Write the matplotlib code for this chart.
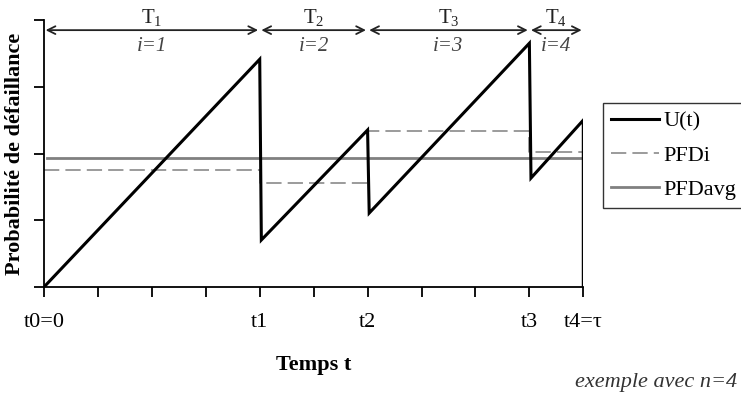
import matplotlib
matplotlib.use("Agg")
import matplotlib.pyplot as plt

plt.rcParams['font.family'] = ['Liberation Serif', 'DejaVu Serif']
plt.rcParams['mathtext.fontset'] = 'custom'
plt.rcParams['mathtext.rm'] = 'Liberation Serif'
plt.rcParams['mathtext.it'] = 'Liberation Serif:italic'

# Data
t_u = [0, 4, 4.03, 6, 6.03, 9, 9.03, 10, 10]
u_vals = [0, 0.853, 0.176, 0.588, 0.277, 0.913, 0.408, 0.625, 0.0]
bounds = [0, 4, 6, 9, 10]
pfdi = [0.438, 0.388, 0.584, 0.507]
pfdavg = 0.482
tick_pos = [0, 1, 2, 3, 4, 5, 6, 7, 8, 9, 10]
tick_labels = ['t0=0', '', '', '', 't1', '', 't2', '', '', 't3', 't4=τ']
periods = ['T$_{1}$', 'T$_{2}$', 'T$_{3}$', 'T$_{4}$']
idx_labels = ['i=1', 'i=2', 'i=3', 'i=4']

fig = plt.figure(figsize=(7.41, 3.98), dpi=100)
ax = fig.add_axes([44/741, 1-287/398, (583.3-44)/741, (287-20)/398])

# PFDi step line
px, py = [], []
for k in range(len(pfdi)):
    px += [bounds[k], bounds[k+1]]
    py += [pfdi[k], pfdi[k]]
l2, = ax.plot(px, py, color='#808080', lw=1.1, dashes=(10, 4), label='PFDi')
l3, = ax.plot([bounds[0] + 0.05, bounds[-1]], [pfdavg, pfdavg], color='#808080', lw=2.0, label='PFDavg')
l1, = ax.plot(t_u, u_vals, color='black', lw=2.2, label='U(t)', solid_joinstyle='miter')

ax.set_xlim(0, 10)
ax.set_ylim(0, 1)
ax.set_xticks(tick_pos)
ax.set_xticklabels(tick_labels, fontsize=16)
ax.set_yticks([0, 0.25, 0.5, 0.75, 1.0])
ax.set_yticklabels([])
for s in ['top', 'right']:
    ax.spines[s].set_visible(False)
for s in ['left', 'bottom']:
    ax.spines[s].set_linewidth(1.3)
ax.tick_params(axis='both', direction='out', length=7, width=1.3)
ax.tick_params(axis='x', pad=12)

ax.set_xlabel('Temps t', fontsize=16, fontweight='bold', labelpad=16)
ax.set_ylabel('Probabilité de défaillance', fontsize=16, fontweight='bold', labelpad=3)

# Period arrows
for k in range(4):
    a, b = bounds[k], bounds[k+1]
    ax.annotate('', xy=(a + 0.03, 0.962), xytext=(b - 0.03, 0.962),
                arrowprops=dict(arrowstyle='<->', color='#222222', lw=1.3,
                                mutation_scale=14, shrinkA=0, shrinkB=0),
                annotation_clip=False)
    mid = (a + b) / 2
    ax.text(mid, 1.01, periods[k], ha='center', va='center', fontsize=15,
            color='#222222', clip_on=False)
    ax.text(mid, 0.9, idx_labels[k], ha='center', va='center', fontsize=15,
            style='italic', color='#444444', clip_on=False)

leg = fig.legend(handles=[l1, l2, l3], loc='upper left',
                 bbox_to_anchor=(603/741, 1-103/398), fontsize=16,
                 frameon=True, fancybox=False, edgecolor='black',
                 handlelength=2.15, borderpad=0.35, labelspacing=0.62,
                 handletextpad=0.2, borderaxespad=0)
leg.get_frame().set_linewidth(1.0)

fig.text(737/741, 1-382/398, 'exemple avec n=4', ha='right', va='center',
         fontsize=16, style='italic', color='#333333')

fig.savefig('out.png', dpi=100)
